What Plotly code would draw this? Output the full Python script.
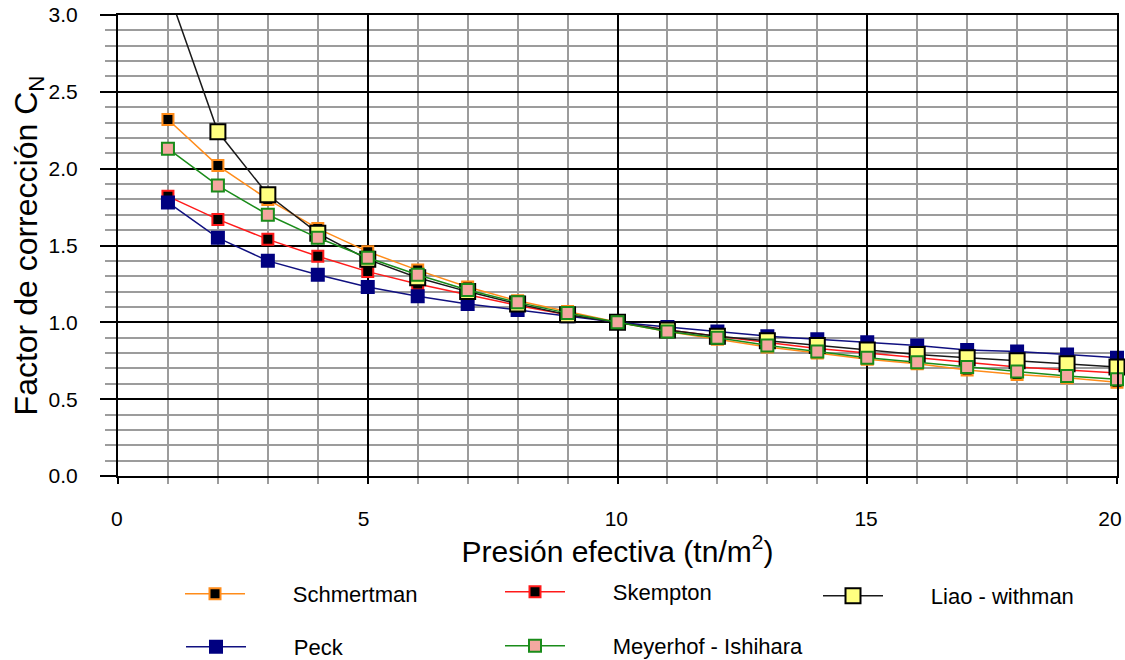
import plotly.graph_objects as go

presion = list(range(1, 21))

schmertman = [2.32, 2.02, 1.80, 1.61, 1.46, 1.34, 1.23, 1.14, 1.07, 1.00,
              0.94, 0.89, 0.84, 0.80, 0.76, 0.73, 0.69, 0.66, 0.64, 0.61]
skempton = [1.82, 1.67, 1.54, 1.43, 1.33, 1.25, 1.18, 1.11, 1.05, 1.00,
            0.95, 0.91, 0.87, 0.83, 0.80, 0.77, 0.74, 0.71, 0.69, 0.67]
liao_withman = [3.16, 2.24, 1.83, 1.58, 1.41, 1.29, 1.20, 1.12, 1.05, 1.00,
                0.95, 0.91, 0.88, 0.85, 0.82, 0.79, 0.77, 0.75, 0.73, 0.71]
peck = [1.78, 1.55, 1.40, 1.31, 1.23, 1.17, 1.12, 1.08, 1.04, 1.00,
        0.97, 0.94, 0.91, 0.89, 0.87, 0.85, 0.82, 0.81, 0.79, 0.77]
meyerhof_ishihara = [2.13, 1.89, 1.70, 1.55, 1.42, 1.31, 1.21, 1.13, 1.06, 1.00,
                     0.94, 0.90, 0.85, 0.81, 0.77, 0.74, 0.71, 0.68, 0.65, 0.63]

x_tickvals = [0, 5, 10, 15, 20]
x_ticktext = ["0", "5", "10", "15", "20"]

W, H = 1125, 660
ML, MR, MT, MB = 118, 8, 15, 184
PW, PH = W - ML - MR, H - MT - MB

def px2paper(px, py):
    return (px - ML) / PW, (H - MB - py) / PH

NB = "\u00a0"
GAP = NB * 7
# leading non-breaking spaces nudge the labels so that "20" stays inside the page
lead = [2, 1, 2, 2, 0]
x_ticktext_padded = [NB * n + t for n, t in zip(lead, x_ticktext)]

series = [
    # name, values, line color, marker fill, marker border, size, legend id, legend pos (px,py)
    ("Schmertman", schmertman, "#FF8C1A", "#000000", "#FF8C1A", 11, "legend", (180, 594)),
    ("Skempton", skempton, "#FF1A1A", "#000000", "#FF1A1A", 11, "legend2", (500, 592)),
    ("Peck", peck, "#101080", "#000080", "#000080", 12, "legend4", (181, 647)),
    ("Liao - withman", liao_withman, "#1A1A1A", "#FFFF80", "#000000", 15, "legend3", (818, 596)),
    ("Meyerhof - Ishihara", meyerhof_ishihara, "#1A8C1A", "#F4A8A0", "#1A8C1A", 12, "legend5", (500, 646)),
]

fig = go.Figure()
legends = {}
for name, vals, lc, mf, mb, sz, lg, (lx, ly) in series:
    fig.add_trace(go.Scatter(
        x=presion, y=vals, name=GAP + name, mode="lines+markers",
        line=dict(color=lc, width=1.5),
        marker=dict(symbol="square", size=sz, color=mf, line=dict(color=mb, width=2)),
        cliponaxis=False, legend=lg,
    ))
    xp, yp = px2paper(lx, ly)
    legends[lg] = dict(x=xp, y=yp, xanchor="left", yanchor="middle",
                       bgcolor="rgba(0,0,0,0)", borderwidth=0, itemwidth=60,
                       font=dict(family="Liberation Sans, Arial", size=22, color="#000"))

fig.update_layout(
    width=W, height=H,
    margin=dict(l=ML, r=MR, t=MT, b=MB, autoexpand=False),
    paper_bgcolor="white", plot_bgcolor="white",
    font=dict(family="Liberation Sans, Arial", size=21, color="#000"),
    showlegend=True,
    **legends,
)

fig.update_xaxes(
    range=[0, 20], tickmode="array", tickvals=x_tickvals, ticktext=x_ticktext_padded,
    showgrid=True, gridcolor="#000000", gridwidth=2,
    zeroline=True, zerolinecolor="#000000", zerolinewidth=2,
    showline=True, mirror=True, linecolor="#000000", linewidth=2,
    ticks="outside", ticklen=6, tickwidth=2, tickcolor="#000000",
    ticklabelstandoff=17, ticklabelshift=-7,
    minor=dict(dtick=1, tick0=0, showgrid=True, gridcolor="#9C9C9C", gridwidth=2,
               ticks="outside", ticklen=6, tickwidth=2, tickcolor="#9C9C9C"),
    title=dict(text="Presión efectiva (tn/m<sup>2</sup>)", font=dict(size=30), standoff=0),
)
fig.update_yaxes(
    range=[0, 3], dtick=0.5, tick0=0, tickformat=".1f",
    showgrid=True, gridcolor="#000000", gridwidth=2,
    zeroline=True, zerolinecolor="#000000", zerolinewidth=2,
    showline=True, mirror=True, linecolor="#000000", linewidth=2,
    ticks="outside", ticklen=16, tickwidth=2, tickcolor="#000000",
    ticklabelstandoff=18,
    minor=dict(dtick=0.1, showgrid=True, gridcolor="#9C9C9C", gridwidth=2,
               ticks="outside", ticklen=11, tickwidth=2, tickcolor="#9C9C9C"),
    title=dict(text="Factor de corrección C<sub>N</sub>", font=dict(size=32), standoff=0),
)

fig.write_html("out.html")
